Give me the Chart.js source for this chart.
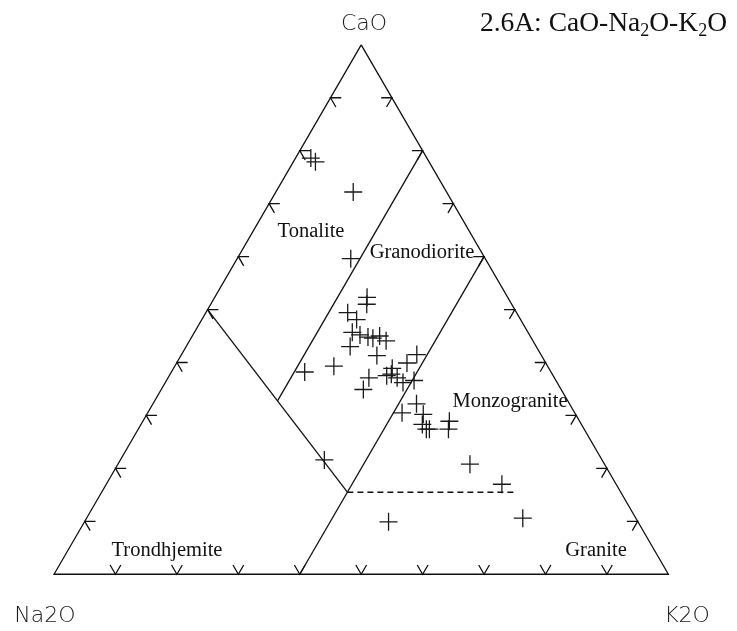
<!DOCTYPE html>
<html><head><meta charset="utf-8">
<script src="https://cdn.jsdelivr.net/npm/chart.js@4"></script>
<style>html,body{margin:0;padding:0;background:#fff}#wrap{width:737px;height:631px}</style>
</head><body><div id="wrap"><canvas id="c" width="737" height="631"></canvas></div>
<script>
// ---- sample compositions (wt% normalised) ----
const sampleCaO  = [78.6,77.9,72.2,59.6,52.3,51.0,49.4,48.1,45.7,45.2,44.8,44.6,45.0,44.1,43.0,41.3,39.3,38.2,41.5,39.9,38.9,37.1,37.5,37.8,37.1,36.2,36.6,34.9,30.5,32.2,30.2,28.3,27.4,27.4,28.9,27.4,20.8,17.0,10.6,9.9,21.6];
const sampleNa2O = [18.9,18.5,15.2,21.9,22.9,23.6,27.5,26.7,28.6,27.6,26.5,25.8,24.5,23.9,30.3,26.8,34.8,40.1,20.2,22.6,25.5,30.2,27.1,26.2,25.6,25.1,23.1,32.2,28.1,24.9,24.8,25.9,25.7,25.2,21.2,22.1,21.9,18.6,18.4,40.6,45.2];
const sampleK2O  = [2.5,3.6,12.6,18.5,24.8,25.4,23.1,25.2,25.7,27.2,28.7,29.6,30.5,32.0,26.7,31.9,25.9,21.7,38.3,37.5,35.6,32.7,35.4,36.0,37.3,38.7,40.3,32.9,41.4,42.9,45.0,45.8,46.9,47.4,49.9,50.5,57.3,64.4,71.0,49.5,33.2];

// ---- axis ticks (percent along each edge) ----
const tickValues = [10,20,30,40,50,60,70,80,90];

// ---- field boundaries, vertices as [CaO, Na2O, K2O] ----
const outline = [[100,0,0],[0,100,0],[0,0,100],[100,0,0]];
const tonaliteTrondhjemite = [[50,50,0],[15.5,44.5,40]];
const tonaliteGranodiorite = [[32.75,47.25,20],[80,0,20]];
const granodioriteMonzogranite = [[0,60,40],[60,0,40]];
const monzograniteGranite = [[15.5,44.5,40],[15.5,17.1,67.4]];

// ---- text ----
const fieldNames = ['Tonalite','Granodiorite','Monzogranite','Trondhjemite','Granite'];
const apexNames = ['CaO','Na2O','K2O'];
const titleParts = [['2.6A: CaO-Na',0],['2',1],['O-K',0],['2',1],['O',0]];

const S3 = Math.sqrt(3)/2;
function tern(c,n,k){const s=c+n+k; c/=s; k/=s; return {x:k+c/2, y:c*S3};}
function poly(list){return list.map(v=>tern(v[0],v[1],v[2]));}

// tick marks (short arms parallel to the grid directions)
const A = 0.0175;
const tickData = [];
const gap = {x:null,y:null};
tickValues.forEach(v=>{
  const f=v/100;
  let p=tern(f,1-f,0);            // left edge
  tickData.push({x:p.x+A,y:p.y},{x:p.x,y:p.y},{x:p.x+0.5*A,y:p.y-S3*A},gap);
  p=tern(f,0,1-f);                // right edge
  tickData.push({x:p.x-A,y:p.y},{x:p.x,y:p.y},{x:p.x-0.5*A,y:p.y-S3*A},gap);
  p=tern(0,1-f,f);                // base
  tickData.push({x:p.x-0.5*A,y:p.y+S3*A},{x:p.x,y:p.y},{x:p.x+0.5*A,y:p.y+S3*A},gap);
});

const lineDs = (data, extra) => Object.assign({type:'scatter', data, showLine:true, spanGaps:false,
  borderColor:'#111', borderWidth:1.3, pointRadius:0, pointHoverRadius:0, fill:false}, extra||{});

const samples = sampleCaO.map((c,i)=>tern(c, sampleNa2O[i], sampleK2O[i]));

const textPlugin = {
  id:'texts',
  afterDraw(chart){
    const ctx = chart.ctx;
    ctx.save();
    ctx.fillStyle = '#111';
    ctx.textBaseline = 'alphabetic';
    ctx.textAlign = 'center';
    ctx.font = '20.5px "Liberation Serif", "Times New Roman", serif';
    const fieldPos = [[311,237],[422,258],[510,407],[167,556],[596,556]];
    fieldNames.forEach((t,i)=>ctx.fillText(t, fieldPos[i][0], fieldPos[i][1]));
    ctx.fillStyle = '#1a1a1a';
    ctx.font = '200 22px "DejaVu Sans", sans-serif';
    const apexPos = [[364,30],[45,622],[687,622]];
    apexNames.forEach((t,i)=>ctx.fillText(t, apexPos[i][0], apexPos[i][1]));
    // title with subscripts, right-aligned
    ctx.fillStyle = '#111';
    ctx.textAlign = 'left';
    const big = '27.5px "Liberation Serif", "Times New Roman", serif';
    const small = '18px "Liberation Serif", "Times New Roman", serif';
    let w = 0;
    titleParts.forEach(([t,s])=>{ctx.font = s?small:big; w += ctx.measureText(t).width;});
    let x = 727 - w, yb = 31;
    titleParts.forEach(([t,s])=>{ctx.font = s?small:big; ctx.fillText(t, x, s? yb+5 : yb); x += ctx.measureText(t).width;});
    ctx.restore();
  }
};

new Chart(document.getElementById('c'), {
  type:'scatter',
  data:{datasets:[
    lineDs(poly(outline)),
    lineDs(tickData),
    lineDs(poly(tonaliteTrondhjemite)),
    lineDs(poly(tonaliteGranodiorite)),
    lineDs(poly(granodioriteMonzogranite)),
    lineDs(poly(monzograniteGranite), {borderDash:[6,4], borderWidth:1.6}),
    {type:'scatter', data:samples, pointStyle:'cross', pointRadius:9, pointHoverRadius:9,
     borderColor:'#1a1a1a', borderWidth:1.3, backgroundColor:'#1a1a1a', showLine:false}
  ]},
  options:{
    responsive:false, animation:false, devicePixelRatio:1, events:[],
    layout:{padding:0},
    plugins:{legend:{display:false}, tooltip:{enabled:false}, title:{display:false}},
    scales:{
      x:{type:'linear', display:false, min:-45/632, max:(737-45)/632},
      y:{type:'linear', display:false, min:(583-631)/632, max:583/632}
    }
  },
  plugins:[textPlugin]
});
</script>
</body></html>
